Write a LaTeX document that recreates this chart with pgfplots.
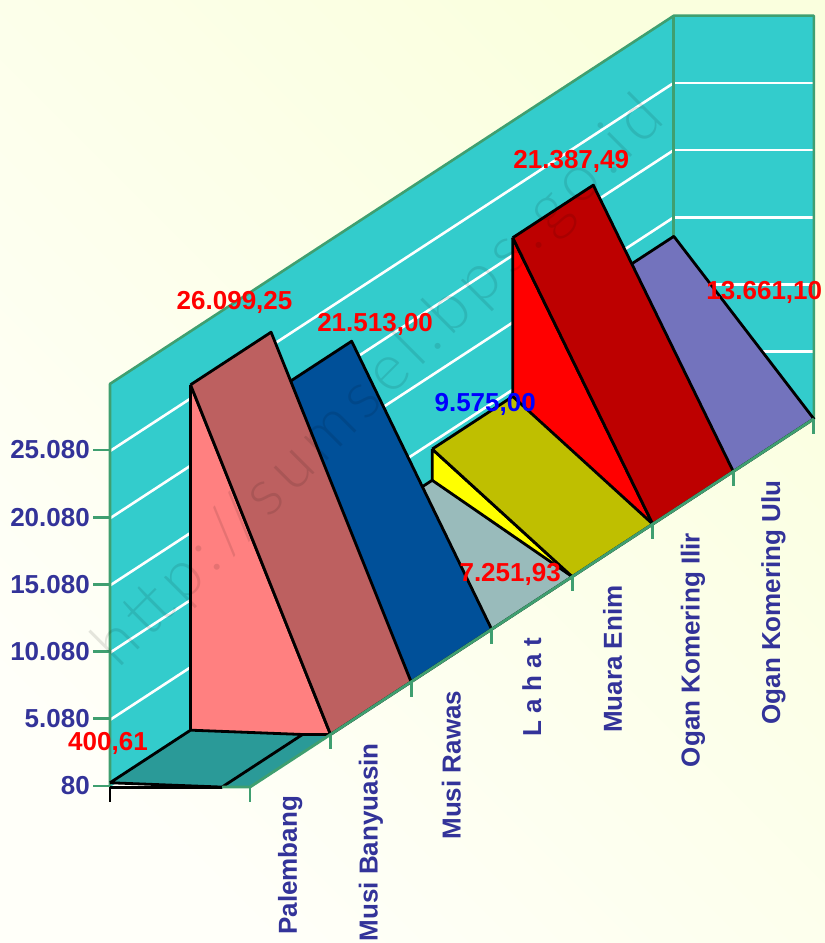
\documentclass[border=0pt]{standalone}
\usepackage{fontspec}
\setmainfont{Liberation Sans}
\newfontfamily\wmfont[LetterSpace=11]{Lato Light}
\usepackage{pgfplots}
\pgfplotsset{compat=1.18}
\definecolor{wall}{HTML}{33CCCC}
\definecolor{floorc}{HTML}{2A9A98}
\definecolor{edge}{HTML}{3F9F70}
\definecolor{lab}{HTML}{333399}
\definecolor{t6}{RGB}{115,115,189}\definecolor{s6}{RGB}{153,153,255}
\definecolor{t5}{RGB}{189,0,0}\definecolor{s5}{RGB}{255,0,0}
\definecolor{t4}{RGB}{191,191,0}\definecolor{s4}{RGB}{255,255,0}
\definecolor{t3}{RGB}{153,187,187}\definecolor{s3}{RGB}{204,255,255}
\definecolor{t2}{RGB}{0,80,153}\definecolor{s2}{RGB}{0,102,204}
\definecolor{t1}{RGB}{189,96,96}\definecolor{s1}{RGB}{255,128,128}
\definecolor{bga}{RGB}{255,255,249}\definecolor{bgb}{RGB}{250,255,222}
\newcommand{\bigf}{\fontsize{26}{30}\selectfont\bfseries}
\newcommand{\wedgeplot}[5]{% cat, next cat, value, top colour, side colour
  \addplot3[draw=black,line width=2.8pt,line join=round,fill=#5] coordinates {(#1,0,#3) (#1,1,80) (#1,0,80) (#1,0,#3)};
  \addplot3[draw=black,line width=2.8pt,line join=round,fill=#4] coordinates {(#1,0,#3) (#2,0,#3) (#2,1,80) (#1,1,80) (#1,0,#3)};
}
\begin{document}
\begin{tikzpicture}[x=1pt,y=1pt]
\path[use as bounding box] (0,0) rectangle (825,943);
\fill[left color=bga,right color=bgb,shading angle=135] (0,0) rectangle (825,943);
% value axis
\begin{axis}[
  at={(110pt,157pt)},anchor=south west,
  scale only axis,width=20pt,height=403.2pt,
  xmin=0,xmax=1,ymin=80,ymax=30080,
  axis x line=none,axis y line=left,
  axis line style={draw=edge,line width=2.8pt,-},
  ytick={80,5080,10080,15080,20080,25080},
  scaled y ticks=false,
  tick align=outside,major tick length=17pt,
  tick style={draw=edge,line width=2.8pt},
  yticklabel style={font=\bigf,text=lab,inner sep=0pt,xshift=-3pt},
  /pgf/number format/assume math mode=true,
  /pgf/number format/1000 sep={.},
]
\addplot[draw=none] coordinates {(0,80) (1,30080)};
\end{axis}
% oblique chart
\begin{axis}[
  at={(110pt,155.92pt)},anchor=origin,
  x={(80.55pt,52.6pt)},y={(140pt,0pt)},z={(0pt,0.01344pt)},
  xmin=0,xmax=7,ymin=0,ymax=1,zmin=80,zmax=30080,
  hide axis,clip=false,
]
% back wall and side wall
\addplot3[draw=none,fill=wall] coordinates {(0,0,80) (7,0,80) (7,0,30080) (0,0,30080) (0,0,80)};
\addplot3[draw=none,fill=wall] coordinates {(7,0,80) (7,1,80) (7,1,30080) (7,0,30080) (7,0,80)};
% grid
\pgfplotsinvokeforeach{5080,10080,15080,20080,25080}{
  \addplot3[draw=white,line width=2.6pt] coordinates {(0,0,#1) (7,0,#1)};
  \addplot3[draw=white,line width=2.6pt] coordinates {(7,0,#1) (7,1,#1)};
}
% wall outline
\addplot3[draw=edge,line width=2.6pt,line join=round] coordinates {(0,0,80) (0,0,30080) (7,0,30080) (7,1,30080) (7,1,80)};
\addplot3[draw=edge,line width=3pt] coordinates {(7,0,30080) (7,0,80)};
% floor
\addplot3[draw=none,fill=floorc] coordinates {(0,0.8,80) (0,1,80) (1,1,80) (1,0.8,80) (0,0.8,80)};
% wedges, far to near
\wedgeplot{6}{7}{13661.10}{t6}{s6}
\wedgeplot{5}{6}{21387.49}{t5}{s5}
\wedgeplot{4}{5}{9575.00}{t4}{s4}
\wedgeplot{3}{4}{7251.93}{t3}{s3}
\wedgeplot{2}{3}{21513.00}{t2}{s2}
\wedgeplot{1}{2}{26099.25}{t1}{s1}
\addplot3[draw=black,line width=2.8pt,line join=round,fill=floorc] coordinates {(0,0,400.61) (1,0,400.61) (1,0.8,80) (0,0.8,80) (0,0,400.61)};
\addplot3[draw=black,line width=3pt] coordinates {(0,0,80) (0,0.8,80)};
% category axis
\addplot3[draw=edge,line width=2.8pt] coordinates {(0,0.8,80) (0,1,80) (7,1,80)};
\pgfplotsinvokeforeach{1,2,3,4,5,6,7}{
  \addplot3[draw=edge,line width=2.8pt] coordinates {(#1,1,80) (#1,1,-1010)};
}
\addplot3[draw=edge,line width=2.8pt] coordinates {(0,1,80) (0,1,-1010)};
\addplot3[draw=black,line width=2.8pt] coordinates {(0,0,80) (0,0,-1010)};
% category labels
\node[rotate=90,anchor=east,font=\bigf,text=lab,inner sep=0pt,xshift=-35pt] at (axis cs:0.5,1,80) {Palembang};
\node[rotate=90,anchor=east,font=\bigf,text=lab,inner sep=0pt,xshift=-35pt] at (axis cs:1.5,1,80) {Musi Banyuasin};
\node[rotate=90,anchor=east,font=\bigf,text=lab,inner sep=0pt,xshift=-35pt] at (axis cs:2.5,1,80) {Musi Rawas};
\node[rotate=90,anchor=east,font=\bigf,text=lab,inner sep=0pt,xshift=-35pt] at (axis cs:3.5,1,80) {L a h a t};
\node[rotate=90,anchor=east,font=\bigf,text=lab,inner sep=0pt,xshift=-35pt] at (axis cs:4.5,1,80) {Muara Enim};
\node[rotate=90,anchor=east,font=\bigf,text=lab,inner sep=0pt,xshift=-35pt] at (axis cs:5.5,1,80) {Ogan Komering Ilir};
\node[rotate=90,anchor=east,font=\bigf,text=lab,inner sep=0pt,xshift=-35pt] at (axis cs:6.5,1,80) {Ogan Komering Ulu};
% value labels
\node[font=\bigf,text=red,inner sep=0pt,xshift=-2pt,yshift=39pt] at (axis cs:0,0,400.61) {400,61};
\node[font=\bigf,text=red,inner sep=0pt,xshift=44pt,yshift=82pt] at (axis cs:1,0,26099.25) {26.099,25};
\node[font=\bigf,text=red,inner sep=0pt,xshift=104pt,yshift=68.9pt] at (axis cs:2,0,21513) {21.513,00};
\node[font=\bigf,text=red,inner sep=0pt,xshift=158.5pt,yshift=-41.2pt] at (axis cs:3,0,7251.93) {7.251,93};
\node[font=\bigf,text=blue,inner sep=0pt,xshift=53pt,yshift=45pt] at (axis cs:4,0,9575) {9.575,00};
\node[font=\bigf,text=red,inner sep=0pt,xshift=58.5pt,yshift=76.6pt] at (axis cs:5,0,21387.49) {21.387,49};
\node[font=\bigf,text=red,inner sep=0pt,xshift=171pt,yshift=-3.1pt] at (axis cs:6,0,13661.1) {13.661,10};
\end{axis}
% watermark
\node[rotate=45,anchor=base west,inner sep=0pt,text=black,opacity=0.1,font=\wmfont\fontsize{65}{72}\selectfont] at (118,273) {http://sumsel.bps.go.id};
\end{tikzpicture}
\end{document}
